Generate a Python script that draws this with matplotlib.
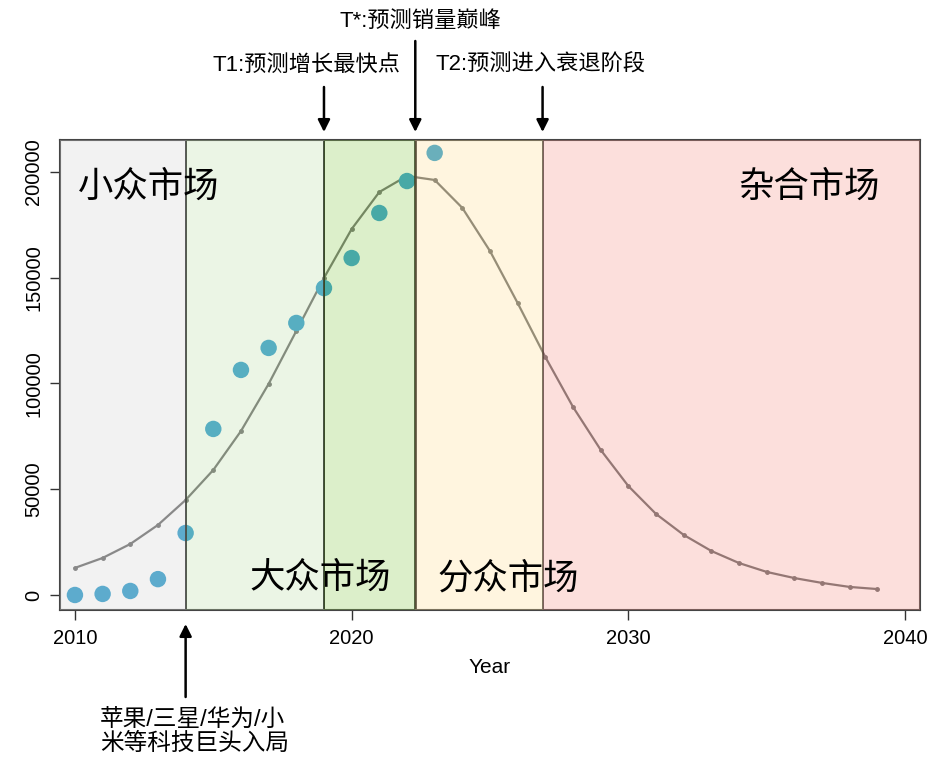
import numpy as np
import matplotlib
matplotlib.use('Agg')
import matplotlib.pyplot as plt
from matplotlib.transforms import blended_transform_factory

plt.rcParams['font.family'] = ['Liberation Sans', 'Noto Sans CJK SC', 'DejaVu Sans']

# observed sales
obs_years = [2010, 2011, 2012, 2013, 2014, 2015, 2016, 2017, 2018, 2019, 2020, 2021, 2022, 2023]
obs_sales = [0, 500, 1900, 7500, 29300, 78500, 106400, 116800, 128600, 145100, 159300, 180600, 195700, 209000]

# fitted curve
fit_years = list(range(2010, 2040))
fit_sales = [12800, 17500, 24100, 33100, 44900, 59100, 77500, 99800, 124800, 149900,
             173000, 190500, 198100, 196200, 183000, 162600, 138000, 112500, 88900, 68600,
             51500, 38300, 28400, 20800, 15100, 10900, 8000, 5700, 3800, 2800]

# phase boundaries and names
bounds = [2009.46, 2014.0, 2019.0, 2022.3, 2026.9, 2040.54]
phase_colors = ['#d4d4d4', '#c0deac', '#8ecd52', '#ffe198', '#f8988e']
phase_names = ['小众市场', '大众市场', '分众市场', '杂合市场']

W, H = 938, 772
fig = plt.figure(figsize=(W / 100, H / 100), dpi=100)
ax = fig.add_axes([60 / W, 1 - 610 / H, 860 / W, 470 / H])

ax.plot(fit_years, fit_sales, color='#6a6a6a', lw=1.6, marker='o', ms=2.5, zorder=2)
ax.scatter(obs_years, obs_sales, s=140, color='#2a9acb', edgecolors='none', zorder=2)

for i in range(len(phase_colors)):
    ax.axvspan(bounds[i], bounds[i + 1], color=phase_colors[i], alpha=0.3, lw=0, zorder=3)

vl_w = [1.3, 1.4, 1.9, 1.1]
for b, w in zip(bounds[1:-1], vl_w):
    ax.axvline(b, color='#111111', lw=w, zorder=2)

ax.set_xlim(bounds[0], bounds[-1])
ax.set_ylim(-7100, 215100)
ax.set_xticks([2010, 2020, 2030, 2040])
ax.set_yticks([0, 50000, 100000, 150000, 200000])
ax.tick_params(axis='both', labelsize=14.5, length=7, width=1, color='#333333')
ax.tick_params(axis='x', pad=7)
ax.tick_params(axis='y', pad=5)
for lab in ax.get_yticklabels():
    lab.set_rotation(90)
    lab.set_va('center')
ax.set_xlabel('Year', fontsize=15, labelpad=7)
for s in ax.spines.values():
    s.set_color('#444444')
    s.set_linewidth(1.5)

cjk = ['Noto Sans CJK SC']
ax.text(2010.1, 192900, phase_names[0], fontsize=25.5, family=cjk, ha='left', va='center', zorder=5)
ax.text(2016.3, 8000, phase_names[1], fontsize=25.5, family=cjk, ha='left', va='center', zorder=5)
ax.text(2023.1, 8000, phase_names[2], fontsize=25.5, family=cjk, ha='left', va='center', zorder=5)
ax.text(2039.1, 192900, phase_names[3], fontsize=25.5, family=cjk, ha='right', va='center', zorder=5)

# annotation arrows, x in data units and y in figure fraction
bt = blended_transform_factory(ax.transData, fig.transFigure)
ap = dict(arrowstyle='-|>', color='black', lw=1.8, mutation_scale=18, shrinkA=0, shrinkB=0)
arrow_x = [2019.0, 2022.3, 2026.9]
arrow_tail = [87, 41, 87]
for x, t in zip(arrow_x, arrow_tail):
    ax.annotate('', xy=(x, 1 - 132 / H), xycoords=bt, xytext=(x, 1 - t / H),
                textcoords=bt, arrowprops=ap, annotation_clip=False)
ax.annotate('', xy=(2014.0, 1 - 624 / H), xycoords=bt, xytext=(2014.0, 1 - 697 / H),
            textcoords=bt, arrowprops=ap, annotation_clip=False)

fig.text(306 / W, 1 - 65 / H, 'T1:预测增长最快点', fontsize=16, ha='center', va='center')
fig.text(420 / W, 1 - 21 / H, 'T*:预测销量巅峰', fontsize=16, ha='center', va='center')
fig.text(541 / W, 1 - 65 / H, 'T2:预测进入衰退阶段', fontsize=16, ha='center', va='center')
fig.text(100 / W, 1 - 732 / H, '苹果/三星/华为/小\n米等科技巨头入局', fontsize=17,
         ha='left', va='center', linespacing=1.1)

fig.savefig('out.png', dpi=100)
